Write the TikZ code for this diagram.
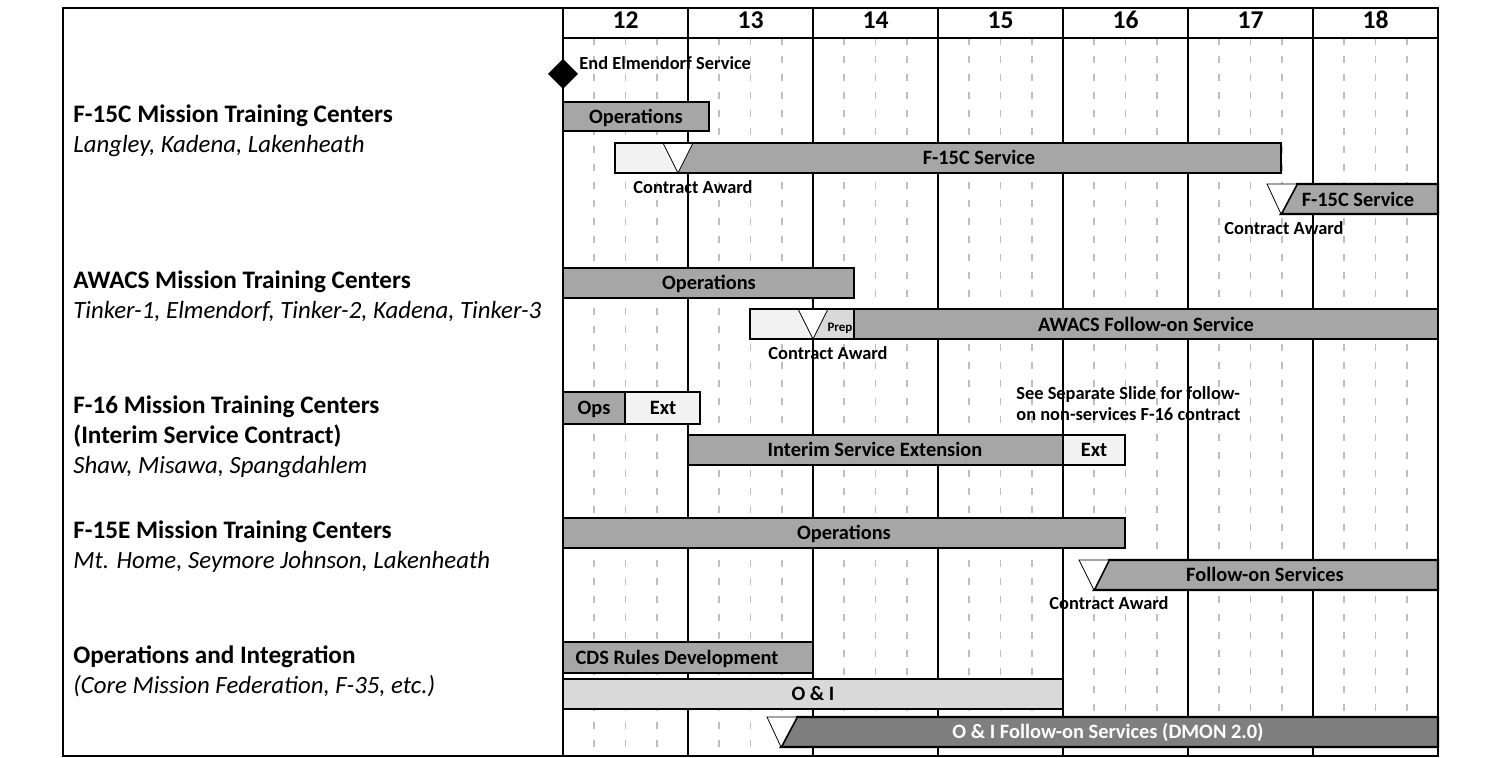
\documentclass[tikz,border=0pt]{standalone}
\usepackage{fontspec}
\setmainfont{Carlito}
\definecolor{barg}{HTML}{A6A6A6}
\definecolor{lightg}{HTML}{F2F2F2}
\definecolor{oig}{HTML}{D9D9D9}
\definecolor{darkg}{HTML}{7F7F7F}
\definecolor{dashg}{HTML}{BFBFBF}
\tikzset{
  px/.style={x=0.5pt,y=-0.5pt},
  gridline/.style={line width=1pt,black},
  qline/.style={line width=0.9pt,dashg,dash pattern=on 3.5pt off 5.5pt},
  barbox/.style={draw=black,line width=1.2pt},
  tri/.style={draw=black,fill=white,line width=0.4pt},
  fix/.style={inner sep=0pt,text height=0.64em,text depth=0pt},
  lbl/.style={fix,font=\bfseries\fontsize{10.2}{12}\selectfont},
  sm/.style={fix,font=\bfseries\fontsize{9.2}{10.5}\selectfont},
  tiny/.style={fix,font=\bfseries\fontsize{6.5}{8}\selectfont},
  head/.style={fix,font=\bfseries\fontsize{12.8}{14}\selectfont},
  cat/.style={fix,font=\bfseries\fontsize{12.6}{14}\selectfont,anchor=west},
  sub/.style={fix,font=\itshape\fontsize{12.4}{14}\selectfont,anchor=west},
}
\begin{document}
\begin{tikzpicture}[px]
\useasboundingbox (0,0) rectangle (1500,758);
\fill[white] (0,0) rectangle (1500,758);
% quarter dashed lines
\foreach \i in {0,...,6}{
  \foreach \q in {1,2,3}{
    \draw[qline] ({563+125*\i+31.25*\q},38) -- ({563+125*\i+31.25*\q},756);
  }
}
% year lines
\foreach \i in {0,...,6}{
  \draw[gridline] ({563+125*\i},8) -- ({563+125*\i},756);
}
\draw[gridline] (563,38) -- (1438,38);
\draw[line width=1pt] (63,8) rectangle (1438,756);
% years
\foreach \y [count=\i from 0] in {12,13,14,15,16,17,18}{
  \node[head] (yr\y) at ({625.5+125*\i},22) {\y};
}
% milestone
\fill[black] (563,59) -- (578,74) -- (563,89) -- (548,74) -- cycle;
\node[sm,anchor=west] (elm) at (579,63.5) {End Elmendorf Service};

% ---- F-15C
\node[cat] (c1) at (73,116) {F-15C Mission Training Centers};
\node[sub] (c1s) at (73,146) {Langley, Kadena, Lakenheath};
\filldraw[barg,barbox] (563,102) rectangle (709,131);
\node[lbl] (c1ops) at (636,117) {Operations};
\fill[lightg] (615,143) -- (663,143) -- (678,173) -- (615,173) -- cycle;
\fill[barg] (693,143) -- (1281,143) -- (1281,173) -- (678,173) -- cycle;
\draw[tri] (663,143) -- (693,143) -- (678,173) -- cycle;
\draw[barbox] (615,143) rectangle (1281,173);
\node[lbl] (c1svc) at (979,158) {F-15C Service};
\node[sm] (c1ca) at (693,187) {Contract Award};
\filldraw[barg,barbox] (1297,184) -- (1438,184) -- (1438,214) -- (1281,214) -- cycle;
\draw[tri] (1267,184) -- (1297,184) -- (1281,214) -- cycle;
\node[lbl] (c1svc2) at (1358,200) {F-15C Service};
\node[sm] (c1ca2) at (1284,228) {Contract Award};

% ---- AWACS
\node[cat] (c2) at (73,282) {AWACS Mission Training Centers};
\node[sub] (c2s) at (73,312) {Tinker-1, Elmendorf, Tinker-2, Kadena, Tinker-3};
\filldraw[barg,barbox] (563,268) rectangle (854,298);
\node[lbl] (c2ops) at (709,283) {Operations};
\fill[lightg] (750,309) -- (798,309) -- (813,339) -- (750,339) -- cycle;
\fill[oig] (828,309) -- (854,309) -- (854,339) -- (813,339) -- cycle;
\fill[barg] (854,309) rectangle (1438,339);
\draw[tri] (798,309) -- (828,309) -- (813,339) -- cycle;
\draw[barbox] (750,309) rectangle (1438,339);
\draw[line width=0.8pt] (854,309) -- (854,339);
\node[tiny] (c2prep) at (840,325) {Prep};
\node[lbl] (c2svc) at (1146,325) {AWACS Follow-on Service};
\node[sm] (c2ca) at (828,353) {Contract Award};

% ---- F-16
\node[cat] (c3) at (73,407) {F-16 Mission Training Centers};
\node[cat] (c3b) at (73,437) {(Interim Service Contract)};
\node[sub] (c3s) at (73,467) {Shaw, Misawa, Spangdahlem};
\filldraw[barg,barbox] (563,392) rectangle (625,424);
\node[lbl] (c3ops) at (594,408) {Ops};
\filldraw[lightg,barbox] (625,392) rectangle (700,424);
\node[lbl] (c3ext) at (663,408) {Ext};
\filldraw[barg,barbox] (688,435) rectangle (1063,465);
\node[lbl] (c3int) at (875,450) {Interim Service Extension};
\filldraw[lightg,barbox] (1063,435) rectangle (1125,465);
\node[lbl] (c3ext2) at (1094,450) {Ext};
\node[sm,anchor=west] (c3note1) at (1016,393) {See Separate Slide for follow-};
\node[sm,anchor=west] (c3note2) at (1016,414) {on non-services F-16 contract};

% ---- F-15E
\node[cat] (c4) at (73,532) {F-15E Mission Training Centers};
\node[sub] (c4s) at (73,562) {Mt. Home, Seymore Johnson, Lakenheath};
\filldraw[barg,barbox] (563,518) rectangle (1125,548);
\node[lbl] (c4ops) at (844,533) {Operations};
\filldraw[barg,barbox] (1109,560) -- (1438,560) -- (1438,590) -- (1094,590) -- cycle;
\draw[tri] (1079,560) -- (1109,560) -- (1094,590) -- cycle;
\node[lbl] (c4svc) at (1265,575) {Follow-on Services};
\node[sm] (c4ca) at (1109,603) {Contract Award};

% ---- O&I
\node[cat] (c5) at (73,657) {Operations and Integration};
\node[sub] (c5s) at (73,687) {(Core Mission Federation, F-35, etc.)};
\filldraw[barg,barbox] (563,642) rectangle (813,673);
\node[lbl] (c5cds) at (677,658) {CDS Rules Development};
\filldraw[oig,barbox] (563,679) rectangle (1063,709);
\node[lbl] (c5oi) at (813,694) {O \& I};
\filldraw[darkg,barbox] (797,717) -- (1438,717) -- (1438,747) -- (781,747) -- cycle;
\draw[tri] (767,717) -- (797,717) -- (781,747) -- cycle;
\node[lbl,text=white] (c5dmon) at (1108,732) {O \& I Follow-on Services (DMON 2.0)};
\end{tikzpicture}
\end{document}
